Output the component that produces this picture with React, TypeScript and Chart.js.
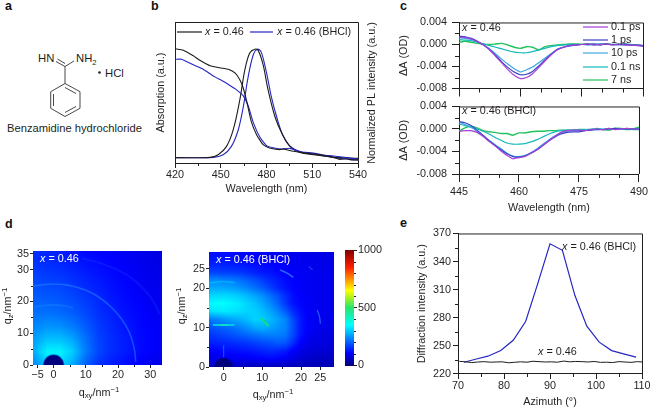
import React, { useEffect, useRef } from "react";
import { Chart, registerables } from "chart.js";
Chart.register(...registerables);

const FONT = '"Liberation Sans", Arial, sans-serif';
const INK = "#231f20";
const SIZE = 10.8;
const BLACK = "#1c1c1c";
const BLUE = "#2626c4";

// Panel b
const bAbsBlackX = [420, 425.5, 432, 436, 443, 449.5, 455, 459.5, 462.5, 464.8, 467.4, 470, 473.5, 477.8, 482, 488.7, 491, 494, 497.5, 502, 506, 510, 515, 519, 523.8, 528, 532.5, 536, 540];
const bAbsBlackY = [81, 80, 76, 73, 69, 67.5, 66.5, 63.7, 59, 53, 42, 29.5, 20, 13, 10.6, 9.5, 10, 9.2, 8.3, 7.6, 7, 6.6, 6, 5.2, 4, 2.6, 3, 2.2, 2.4];
const bAbsBlueX = [420, 424.4, 432, 438.5, 445, 451.6, 456, 460.4, 464.8, 468, 471.3, 475.7, 480, 484.4, 490, 495.4, 502, 510.7, 517.2, 523.8, 532.5, 540];
const bAbsBlueY = [73.6, 73.6, 69.6, 66.5, 61.8, 58, 55, 51.9, 47.6, 40.6, 28.8, 18.2, 12.3, 10.8, 9.9, 10.4, 8, 7, 5.7, 5, 3.8, 2.8];
const bPlBlackX = [420, 443, 448.3, 453.8, 458.2, 462.5, 465.8, 469, 472.4, 474.6, 477.8, 481, 485.5, 490, 495.4, 502, 510.7, 523.8, 540];
const bPlBlackY = [3.8, 4, 5.9, 11.8, 23.6, 44.8, 66, 78, 80.7, 79.7, 69.6, 52, 33, 21.2, 11.8, 7.5, 5.9, 4.2, 3.3];
const bPlBlueX = [420, 445, 451.6, 457, 461.5, 464.8, 468, 471.3, 474, 476.4, 479.6, 483.4, 486.6, 491, 496.4, 504, 515, 526, 540];
const bPlBlueY = [3.8, 4, 5.9, 11.8, 23.6, 40, 61.3, 76.6, 80.7, 79, 66, 46, 33, 19, 11, 7.5, 5.6, 3.5, 2];
const bTicksX = [420, 450, 480, 510, 540];
const bMinorX = [435, 465, 495, 525];

// Panel c
const cWave = [445, 446.5, 448, 449.5, 451, 452.5, 454, 455.5, 457, 458.5, 460, 461.5, 463, 464.5, 466, 467.5, 469, 470.5, 472, 473.5, 475, 476.5, 478, 479.5, 481, 482.5, 484, 485.5, 487, 488.5, 490];
const cNames = ["0.1 ps", "1 ps", "10 ps", "0.1 ns", "7 ns"];
const cColors = ["#a53fd8", "#3a3fc8", "#3aa5e2", "#14b9bb", "#22c25c"];
const cTop0 = [1.3, 1.3, 1.0, 0.5, -0.1, -1.0, -2.2, -3.4, -4.6, -5.6, -6.2, -6.0, -5.3, -4.2, -3.0, -1.9, -1.0, -0.5, -0.2, -0.1, 0, 0.1, -0.1, 0, 0.1, -0.1, 0.1, -0.1, -0.1, -0.2, -0.3];
const cTop1 = [1.5, 1.4, 1.1, 0.6, -0.1, -0.9, -2.0, -3.2, -4.2, -5.0, -5.5, -5.4, -4.9, -3.9, -2.8, -1.8, -0.9, -0.5, -0.2, -0.1, 0, 0, 0.1, -0.1, 0.1, 0, 0, 0.1, -0.1, -0.1, -0.2];
const cTop2 = [1.2, 1.1, 0.9, 0.5, -0.1, -0.8, -1.7, -2.7, -3.6, -4.4, -5.0, -4.6, -4.1, -3.3, -2.5, -1.7, -0.9, -0.5, -0.3, -0.1, 0, -0.1, 0, 0.1, 0, 0, -0.1, 0, -0.1, -0.1, -0.2];
const cTop3 = [0.9, 0.8, 0.7, 0.4, 0.1, -0.2, -0.5, -0.8, -1.1, -1.4, -1.5, -1.5, -1.3, -1.0, -0.7, -0.4, -0.2, -0.1, 0, 0, 0, 0.1, 0, 0, 0.1, 0, 0, -0.1, 0, -0.1, -0.2];
const cTop4 = [0.4, 0.6, 0.4, 0.2, 0.05, 0, 0.1, 0.2, -0.1, -0.5, -0.7, -0.4, -0.5, -1.0, -0.4, -0.2, -0.1, 0, 0.1, 0.1, 0.05, 0.1, 0, 0.1, 0.1, 0, 0.05, 0.1, 0, -0.1, -0.3];
const cBot0 = [-0.4, -0.3, -0.3, -0.6, -1.3, -2.2, -3.0, -3.9, -4.7, -5.3, -5.1, -4.9, -4.3, -3.7, -2.9, -2.1, -1.3, -0.6, -0.3, -0.2, -0.2, -0.3, -0.1, 0, -0.1, 0.1, -0.1, 0, 0.1, 0, 0];
const cBot1 = [1.3, 1.1, 0.6, -0.2, -1.1, -2.1, -2.9, -3.7, -4.4, -4.9, -5.0, -4.8, -4.3, -3.7, -2.9, -2.1, -1.4, -0.9, -0.6, -0.5, -0.5, -0.3, -0.2, -0.1, -0.1, 0, 0.1, 0, 0, 0, 0];
const cBot2 = [1.2, 0.8, 0.3, -0.4, -1.2, -2.0, -2.8, -3.5, -4.3, -4.8, -4.9, -4.7, -4.2, -3.5, -2.7, -1.9, -1.2, -0.7, -0.4, -0.3, -0.3, -0.2, -0.1, 0, -0.1, 0.1, 0, 0, 0.1, 0, 0];
const cBot3 = [0.9, 0.6, 0.3, 0, -0.4, -0.9, -1.5, -2.0, -2.5, -2.7, -2.7, -2.6, -2.3, -1.9, -1.4, -0.9, -0.5, -0.3, -0.2, -0.2, -0.1, -0.1, 0, 0, 0, 0, 0.1, 0, 0, -0.1, -0.1];
const cBot4 = [-0.4, 0.2, 0.5, 0.2, -0.3, -0.5, -0.6, -0.8, -0.8, -1.1, -0.7, -0.7, -0.5, -0.4, -0.4, -0.3, -0.3, -0.2, -0.2, -0.2, -0.1, -0.1, -0.2, 0.1, -0.1, -0.2, 0.1, 0.1, -0.1, 0, 0.3];
const cTicksX = [445, 460, 475, 490];
const cMinorX = [450, 455, 465, 470, 480, 485];
const cTicksY = [-0.008, -0.004, 0, 0.004];
const cMinorY = [-0.006, -0.002, 0.002];

// Panel d, left map
const dLeftQxy = [-6, -2, 2, 6, 10, 14, 18, 22, 26, 30, 34];
const dLeftQz = [36, 32, 28, 24, 20, 16, 12, 8, 4, 0];
const dLeftCells = [
  [150, 145, 135, 125, 115, 110, 105, 100, 95, 90, 85],
  [155, 150, 145, 135, 125, 118, 110, 105, 98, 92, 88],
  [170, 165, 160, 150, 138, 128, 118, 110, 100, 95, 90],
  [185, 182, 178, 165, 150, 138, 125, 115, 105, 98, 92],
  [200, 198, 192, 180, 165, 148, 132, 120, 110, 100, 95],
  [215, 218, 212, 198, 178, 155, 140, 125, 115, 105, 98],
  [235, 248, 245, 225, 195, 165, 145, 130, 118, 108, 100],
  [260, 290, 290, 265, 215, 172, 150, 135, 120, 110, 102],
  [275, 340, 340, 300, 225, 175, 150, 135, 120, 108, 100],
  [240, 300, 310, 270, 200, 155, 135, 120, 105, 95, 90],
];
const dLeftRingMain = [[-6.4, 24.8], [-3, 25.3], [0, 25.5], [3, 25.3], [6, 24.8], [10, 23.5], [14, 21.4], [18, 18.1], [21, 14.6], [23.5, 10.3], [25, 5.4], [25.5, 1]];
const dLeftRingInner = [[-6, 18.3], [-2, 18.8], [2, 18.8], [6, 18]];
const dLeftRingOuter = [[9, 33.5], [16, 31.5], [24, 27.5], [30, 21.5], [33, 16]];
const dLeftTicksX = [-5, 0, 10, 20, 30];
const dLeftTicksY = [0, 10, 20, 30, 35];

// Panel d, right map
const dRightQxy = [-4, -2, 0, 2, 4, 6, 8, 10, 12, 14, 16, 18, 20, 22, 24, 26, 28];
const dRightQz = [30, 28, 26, 24, 22, 20, 18, 16, 14, 12, 10, 8, 6, 4, 2, 0];
const dRightCells = [
  [115, 115, 115, 112, 110, 108, 105, 103, 100, 98, 95, 94, 92, 90, 89, 88, 86],
  [125, 125, 125, 122, 118, 114, 110, 108, 105, 102, 100, 98, 95, 94, 92, 90, 88],
  [140, 140, 140, 135, 130, 125, 120, 115, 112, 108, 105, 100, 98, 96, 94, 92, 90],
  [170, 170, 165, 165, 160, 150, 140, 130, 125, 115, 110, 105, 100, 98, 95, 93, 90],
  [235, 235, 230, 225, 215, 200, 185, 165, 148, 132, 118, 110, 105, 100, 96, 94, 92],
  [265, 270, 265, 260, 250, 235, 215, 195, 170, 145, 125, 112, 105, 100, 96, 94, 92],
  [310, 315, 315, 310, 300, 285, 265, 245, 215, 185, 150, 120, 108, 100, 96, 94, 92],
  [345, 350, 350, 340, 330, 310, 295, 270, 240, 205, 160, 125, 112, 103, 98, 95, 92],
  [320, 325, 330, 325, 320, 310, 305, 290, 265, 235, 195, 150, 120, 103, 98, 95, 92],
  [225, 235, 250, 265, 275, 290, 310, 305, 285, 262, 235, 175, 130, 105, 98, 95, 92],
  [185, 195, 205, 215, 230, 250, 270, 280, 265, 250, 235, 180, 130, 105, 95, 90, 88],
  [155, 165, 175, 185, 195, 205, 215, 225, 230, 230, 220, 175, 125, 100, 90, 85, 82],
  [135, 140, 145, 150, 155, 160, 170, 178, 185, 195, 190, 150, 105, 90, 85, 82, 80],
  [105, 110, 120, 122, 125, 128, 135, 142, 150, 145, 135, 105, 90, 80, 75, 72, 70],
  [85, 90, 95, 98, 100, 100, 105, 110, 115, 110, 100, 85, 72, 65, 60, 58, 58],
  [60, 58, 55, 55, 55, 52, 50, 50, 50, 50, 50, 48, 45, 45, 45, 45, 45],
];
const dRightRingTop = [[-3.8, 21.4], [0, 21.7], [3, 21.4]];
const dRightArcA = [[14.5, 24.7], [16.5, 23.8], [18, 22.8]];
const dRightArcB = [[24.2, 14.5], [24.8, 12.7], [25, 11]];
const dRightArcC = [[22, 25.5], [23, 24.7]];
const dRightStreak = [[-2.8, 10.7], [2.8, 10.7]];
const dRightStreakCore = [[-1, 10.7], [1, 10.7]];
const dRightSpot = [[9.6, 12.4], [11.6, 10.4]];
const dRightSpotCore = [[10.3, 11.7], [11.1, 10.9]];
const dRightSpike = [[0, 2.5], [0, 5.5]];
const dRightTicksX = [0, 10, 20, 25];
const dRightTicksY = [0, 10, 20, 25];
const beamStop = [[0, 0]];
const barLevels = [1000, 0];
const barTicks = [0, 500, 1000];
const barMinor = [100, 200, 300, 400, 600, 700, 800, 900];

// Panel e
const eBlueX = [71.3, 74, 76.5, 79.3, 82, 84.7, 87.3, 90, 92.7, 95.4, 98, 100.7, 103.4, 106, 108.7];
const eBlueY = [232.5, 236, 239, 245, 256, 276, 316, 359, 352, 304, 271, 254, 245, 241.5, 238];
const eBlackX = [70.3, 71.6, 73, 74.3, 75.6, 77, 78.3, 79.6, 81, 82.3, 83.6, 85, 86.3, 87.6, 89, 90.3, 91.6, 93, 94.3, 95.6, 97, 98.3, 99.6, 101, 102.3, 103.6, 105, 106.3, 107.6, 109, 110];
const eBlackY = [233.5, 233, 232.2, 232.8, 233.2, 232.6, 232.8, 233, 232, 232.5, 233, 232.6, 233.6, 233.2, 232.8, 233, 232.6, 233.8, 233, 233.4, 233.2, 232.8, 233.4, 232.4, 232.6, 232.2, 233.2, 232.8, 232.4, 233.2, 232.8];
const eTicksX = [70, 80, 90, 100, 110];
const eTicksY = [220, 250, 280, 310, 340, 370];
const eMinorX = [75, 85, 95, 105];
const eMinorY = [235, 265, 295, 325, 355];

type Run = { t: string; i?: boolean; sub?: boolean; sup?: boolean };
type Txt = { runs: Run[]; x: number; y: number; align?: "left" | "center"; rot?: boolean; color?: string };
type Rect = { L: number; R: number; T: number; B: number; gL: number; gR: number; gT: number; gB: number };

const xEq = (rest: string): Run[] => [{ t: "x", i: true }, { t: rest }];
const qz: Run[] = [{ t: "q" }, { t: "z", sub: true }, { t: "/nm" }, { t: "−1", sup: true }];
const qxy: Run[] = [{ t: "q" }, { t: "xy", sub: true }, { t: "/nm" }, { t: "−1", sup: true }];

function heatColor(t: number): [number, number, number] {
  const stops: [number, number[]][] = [
    [0, [0, 0, 127]], [0.11, [0, 0, 255]], [0.35, [0, 255, 255]], [0.5, [40, 230, 110]],
    [0.58, [160, 240, 40]], [0.65, [255, 255, 0]], [0.85, [255, 30, 0]], [1, [127, 0, 0]],
  ];
  t = Math.max(0, Math.min(1, t));
  for (let k = 1; k < stops.length; k++) {
    if (t <= stops[k][0]) {
      const [a, ca] = stops[k - 1];
      const [b, cb] = stops[k];
      const f = (t - a) / (b - a);
      return [0, 1, 2].map((c) => ca[c] + (cb[c] - ca[c]) * f) as [number, number, number];
    }
  }
  return [127, 0, 0];
}

function lookup(levels: number[], v: number): [number, number] {
  const asc = levels[levels.length - 1] > levels[0];
  for (let k = 0; k < levels.length - 1; k++) {
    const a = levels[k];
    const b = levels[k + 1];
    if (asc ? v <= b : v >= b) {
      return [k, Math.max(0, Math.min(1, (v - a) / (b - a)))];
    }
  }
  return [levels.length - 2, 1];
}

type Heat = { xs: number[]; ys: number[]; cells: number[][] };

function fontOf(run: Run, size = SIZE) {
  const s = run.sub || run.sup ? size * 0.72 : size;
  return `${run.i ? "italic " : ""}${s}px ${FONT}`;
}

function drawRuns(ctx: CanvasRenderingContext2D, item: Txt) {
  ctx.save();
  ctx.translate(item.x, item.y);
  if (item.rot) ctx.rotate(-Math.PI / 2);
  ctx.fillStyle = item.color || INK;
  ctx.textBaseline = "middle";
  ctx.textAlign = "left";
  let total = 0;
  for (const r of item.runs) {
    ctx.font = fontOf(r);
    total += ctx.measureText(r.t).width;
  }
  let x = item.align === "center" ? -total / 2 : 0;
  for (const r of item.runs) {
    ctx.font = fontOf(r);
    ctx.fillText(r.t, x, r.sub ? 3 : r.sup ? -3 : 0);
    x += ctx.measureText(r.t).width;
  }
  ctx.restore();
}

function panelPlugin(rect: Rect, o: {
  frame?: boolean; texts?: Txt[]; heat?: Heat; lines?: { x1: number; x2: number; y: number; color: string }[];
  minorX?: number[]; minorY?: number[]; minorLen?: number; minorSide?: "left" | "right";
}) {
  return {
    id: "panel",
    beforeDatasetsDraw(chart: any) {
      if (!o.heat) return;
      const { ctx, chartArea: a, scales } = chart;
      const w = Math.round(a.right - a.left);
      const h = Math.round(a.bottom - a.top);
      const img = ctx.createImageData(w, h);
      for (let py = 0; py < h; py++) {
        const vy = scales.y.getValueForPixel(a.top + py + 0.5);
        const [j, fy] = lookup(o.heat.ys, vy);
        for (let px = 0; px < w; px++) {
          const vx = scales.x.getValueForPixel(a.left + px + 0.5);
          const [i, fx] = lookup(o.heat.xs, vx);
          const c = o.heat.cells;
          const v = (c[j][i] * (1 - fx) + c[j][i + 1] * fx) * (1 - fy) + (c[j + 1][i] * (1 - fx) + c[j + 1][i + 1] * fx) * fy;
          const rgb = heatColor(v / 1000);
          const p = (py * w + px) * 4;
          img.data[p] = rgb[0];
          img.data[p + 1] = rgb[1];
          img.data[p + 2] = rgb[2];
          img.data[p + 3] = 255;
        }
      }
      ctx.putImageData(img, a.left, a.top);
    },
    afterDraw(chart: any) {
      const { ctx, chartArea: a, scales } = chart;
      ctx.save();
      ctx.strokeStyle = INK;
      ctx.lineWidth = 1;
      if (o.frame) {
        ctx.beginPath();
        ctx.moveTo(a.left, a.top + 0.5);
        ctx.lineTo(a.right + 0.5, a.top + 0.5);
        ctx.lineTo(a.right + 0.5, a.bottom);
        ctx.stroke();
      }
      const len = o.minorLen ?? 3;
      ctx.beginPath();
      for (const v of o.minorX || []) {
        const p = Math.round(scales.x.getPixelForValue(v)) + 0.5;
        ctx.moveTo(p, a.bottom);
        ctx.lineTo(p, a.bottom + len);
      }
      for (const v of o.minorY || []) {
        const p = Math.round(scales.y.getPixelForValue(v)) + 0.5;
        if (o.minorSide === "right") {
          ctx.moveTo(a.right, p);
          ctx.lineTo(a.right + len, p);
        } else {
          ctx.moveTo(a.left, p);
          ctx.lineTo(a.left - len, p);
        }
      }
      ctx.stroke();
      const ox = rect.L - rect.gL;
      const oy = rect.T - rect.gT;
      ctx.translate(-ox, -oy);
      for (const l of o.lines || []) {
        ctx.strokeStyle = l.color;
        ctx.lineWidth = 1.2;
        ctx.beginPath();
        ctx.moveTo(l.x1, l.y);
        ctx.lineTo(l.x2, l.y);
        ctx.stroke();
      }
      for (const t of o.texts || []) drawRuns(ctx, t);
      ctx.restore();
    },
  };
}

function axis(rect: Rect, pos: string, min: number, max: number, major: number[], o: {
  fmt?: (v: number) => string; title?: string; tick?: number; pad?: number; noLabels?: boolean; noBorder?: boolean; noTicks?: boolean; size?: number;
} = {}) {
  const horizontal = pos === "bottom";
  return {
    type: "linear",
    position: pos,
    min,
    max,
    afterBuildTicks: (s: any) => {
      s.ticks = major.map((value) => ({ value }));
    },
    afterFit: (s: any) => {
      if (horizontal) s.height = rect.gB;
      else s.width = pos === "right" ? rect.gR : rect.gL;
    },
    title: o.title
      ? { display: true, text: o.title, color: INK, padding: 0, font: { family: FONT, size: SIZE } }
      : { display: false },
    ticks: {
      display: !o.noTicks,
      autoSkip: false,
      maxRotation: 0,
      minRotation: 0,
      includeBounds: false,
      color: INK,
      padding: o.pad ?? 2,
      font: { family: FONT, size: SIZE },
      callback: (v: number) => (o.noLabels ? "" : o.fmt ? o.fmt(v) : String(v).replace("-", "−")),
    },
    grid: {
      display: !o.noTicks,
      drawOnChartArea: false,
      drawTicks: !o.noTicks,
      tickLength: o.tick ?? 5,
      tickColor: INK,
      tickWidth: 1,
    },
    border: { display: !o.noBorder, color: INK, width: 1 },
  };
}

function config(rect: Rect, datasets: any[], scales: any, plugin: any, rightAxis = false) {
  return {
    type: "scatter",
    data: { datasets },
    options: {
      responsive: false,
      animation: false,
      devicePixelRatio: 1,
      events: [],
      layout: { padding: rightAxis ? { top: rect.gT, right: 0, left: rect.gL, bottom: rect.gB } : { top: rect.gT, right: rect.gR, left: 0, bottom: 0 } },
      plugins: { legend: { display: false }, tooltip: { enabled: false } },
      scales,
    },
    plugins: [plugin],
  };
}

const line = (label: string, xs: number[], ys: number[], color: string, width = 1, yAxisID = "y", tension = 0.25) => ({
  label,
  data: xs.map((x, i) => ({ x, y: ys[i] })),
  showLine: true,
  borderColor: color,
  borderWidth: width,
  pointRadius: 0,
  tension,
  yAxisID,
});
const trace = (label: string, pts: number[][], color: string, width: number, tension = 0.4) => ({
  label,
  data: pts.map(([x, y]) => ({ x, y })),
  showLine: true,
  borderColor: color,
  borderWidth: width,
  pointRadius: 0,
  tension,
});
const stopMark = (radius: number) => ({
  label: "beam stop",
  data: beamStop.map(([x, y]) => ({ x, y })),
  showLine: false,
  pointRadius: radius,
  pointBackgroundColor: "#00007c",
  pointBorderColor: "rgba(0,0,150,0.45)",
  pointBorderWidth: 1.5,
});

const rB: Rect = { L: 175, R: 358, T: 22, B: 163, gL: 20, gR: 22, gT: 6, gB: 33 };
const rCT: Rect = { L: 459, R: 643, T: 19, B: 90, gL: 61, gR: 9, gT: 8, gB: 10 };
const rCB: Rect = { L: 459, R: 643, T: 103, B: 174, gL: 61, gR: 9, gT: 8, gB: 41 };
const rDL: Rect = { L: 33, R: 165, T: 248, B: 365, gL: 32, gR: 8, gT: 8, gB: 36 };
const rDR: Rect = { L: 209, R: 338, T: 250, B: 367, gL: 35, gR: 6, gT: 8, gB: 36 };
const rBar: Rect = { L: 345, R: 354, T: 250, B: 367, gL: 2, gR: 30, gT: 8, gB: 6 };
const rE: Rect = { L: 458, R: 642, T: 233, B: 374, gL: 42, gR: 10, gT: 8, gB: 35 };

const fmtOD = (v: number) => v.toFixed(3);
const toOD = (a: number[]) => a.map((v) => v * 0.001);

const chartB = () =>
  config(
    rB,
    [
      line("x = 0.46 absorption", bAbsBlackX, bAbsBlackY, BLACK, 1.1, "y", 0.15),
      line("x = 0.46 (BHCl) absorption", bAbsBlueX, bAbsBlueY, BLUE, 1.1, "y", 0.15),
      line("x = 0.46 PL", bPlBlackX, bPlBlackY, BLACK, 1.1, "y2", 0.35),
      line("x = 0.46 (BHCl) PL", bPlBlueX, bPlBlueY, BLUE, 1.1, "y2", 0.35),
    ],
    {
      x: axis(rB, "bottom", 420, 540, bTicksX, { title: "Wavelength (nm)", tick: 5, pad: 1 }),
      y: axis(rB, "left", 0, 100, [], { title: "Absorption (a.u.)", noTicks: true }),
      y2: { type: "linear", display: false, min: 0, max: 100 },
    },
    panelPlugin(rB, {
      frame: true,
      minorX: bMinorX,
      lines: [
        { x1: 177, x2: 202, y: 32, color: BLACK },
        { x1: 250, x2: 273, y: 32, color: BLUE },
      ],
      texts: [
        { runs: xEq(" = 0.46"), x: 205, y: 32 },
        { runs: xEq(" = 0.46 (BHCl)"), x: 277, y: 32 },
        { runs: [{ t: "Normalized PL intensity (a.u.)" }], x: 372, y: 93, rot: true, align: "center" },
      ],
    })
  );

const chartC = (rect: Rect, series: number[][], top: boolean) =>
  config(
    rect,
    series.map((s, i) => line(cNames[i], cWave, toOD(s), cColors[i], i === 4 ? 1.4 : 1.2, "y", 0.2)),
    {
      x: top
        ? axis(rect, "bottom", 445, 490, cTicksX, { tick: 8, noLabels: true })
        : axis(rect, "bottom", 445, 490, cTicksX, { tick: 8, pad: 4, title: "Wavelength (nm)" }),
      y: axis(rect, "left", -0.008, 0.004, cTicksY, { fmt: fmtOD, tick: 7, pad: 5, title: "ΔA (OD)" }),
    },
    panelPlugin(rect, {
      frame: true,
      minorX: cMinorX,
      minorY: cMinorY,
      minorLen: 4,
      lines: top ? [27, 40, 53, 67, 80].map((y, i) => ({ x1: 583, x2: 608, y, color: cColors[i] })) : [],
      texts: top
        ? [
            { runs: xEq(" = 0.46"), x: 462, y: 28 },
            ...cNames.map((n, i) => ({ runs: [{ t: n }], x: 611, y: [27, 40, 53, 67, 80][i] })),
          ]
        : [{ runs: xEq(" = 0.46 (BHCl)"), x: 462, y: 111 }],
    })
  );

const chartDL = () =>
  config(
    rDL,
    [
      trace("ring", dLeftRingMain, "rgba(40,150,255,0.45)", 1.6),
      trace("inner ring", dLeftRingInner, "rgba(50,160,255,0.22)", 2),
      trace("outer ring", dLeftRingOuter, "rgba(50,130,255,0.14)", 2),
      stopMark(10),
    ],
    {
      x: axis(rDL, "bottom", -6.4, 33.5, dLeftTicksX, { tick: 3, pad: 1, noBorder: true }),
      y: axis(rDL, "left", 0, 35.7, dLeftTicksY, { tick: 3, pad: 1, noBorder: true }),
    },
    panelPlugin(rDL, {
      heat: { xs: dLeftQxy, ys: dLeftQz, cells: dLeftCells },
      minorX: [5, 15, 25],
      minorY: [5, 15, 25],
      minorLen: 2,
      texts: [
        { runs: xEq(" = 0.46"), x: 40, y: 259, color: "#ffffff" },
        { runs: qz, x: 8, y: 306, rot: true, align: "center" },
        { runs: qxy, x: 99, y: 393, align: "center" },
      ],
    })
  );

const chartDR = () =>
  config(
    rDR,
    [
      trace("ring top", dRightRingTop, "rgba(0,235,255,0.4)", 1.5),
      trace("arc a", dRightArcA, "rgba(70,170,255,0.6)", 1.5),
      trace("arc b", dRightArcB, "rgba(70,170,255,0.5)", 1.3),
      trace("arc c", dRightArcC, "rgba(70,170,255,0.35)", 1.2),
      trace("streak", dRightStreak, "rgba(0,225,220,0.8)", 2, 0),
      trace("streak core", dRightStreakCore, "#a5e040", 1.4, 0),
      trace("spot", dRightSpot, "#10dc90", 2.4, 0),
      trace("spot core", dRightSpotCore, "#b02000", 1.8, 0),
      trace("spike", dRightSpike, "rgba(0,200,255,0.5)", 1, 0),
      stopMark(9),
    ],
    {
      x: axis(rDR, "bottom", -3.8, 28.4, dRightTicksX, { tick: 3, pad: 2, noBorder: true }),
      y: axis(rDR, "left", 0, 29.1, dRightTicksY, { tick: 3, pad: 1, noBorder: true }),
    },
    panelPlugin(rDR, {
      heat: { xs: dRightQxy, ys: dRightQz, cells: dRightCells },
      minorX: [5, 15],
      minorY: [5, 15],
      minorLen: 2,
      texts: [
        { runs: xEq(" = 0.46 (BHCl)"), x: 216, y: 260, color: "#ffffff" },
        { runs: qz, x: 182, y: 306, rot: true, align: "center" },
        { runs: qxy, x: 273, y: 395, align: "center" },
      ],
    })
  );

const chartBar = () =>
  config(
    rBar,
    [],
    {
      x: { type: "linear", display: false, min: 0, max: 1 },
      y: axis(rBar, "right", 0, 1000, barTicks, { tick: 3, pad: 1, noBorder: true }),
    },
    panelPlugin(rBar, {
      heat: { xs: [0, 1], ys: barLevels, cells: barLevels.map((v) => [v, v]) },
      minorY: barMinor,
      minorSide: "right",
      minorLen: 2,
    }),
    true
  );

const chartE = () =>
  config(
    rE,
    [line("x = 0.46", eBlackX, eBlackY, BLACK, 1, "y", 0), line("x = 0.46 (BHCl)", eBlueX, eBlueY, BLUE, 1.2, "y", 0)],
    {
      x: axis(rE, "bottom", 70, 110, eTicksX, { tick: 5, pad: 1, title: "Azimuth (°)" }),
      y: axis(rE, "left", 220, 370, eTicksY, { tick: 5, pad: 2, title: "Diffraction intensity (a.u.)" }),
    },
    panelPlugin(rE, {
      frame: true,
      minorX: eMinorX,
      minorY: eMinorY,
      texts: [
        { runs: xEq(" = 0.46 (BHCl)"), x: 562, y: 247 },
        { runs: xEq(" = 0.46"), x: 538, y: 352 },
      ],
    })
  );

function Panel({ rect, make }: { rect: Rect; make: () => any }) {
  const ref = useRef<HTMLCanvasElement>(null);
  useEffect(() => {
    const c = new Chart(ref.current as HTMLCanvasElement, make());
    return () => c.destroy();
  }, []);
  const w = rect.R - rect.L + rect.gL + rect.gR;
  const h = rect.B - rect.T + rect.gT + rect.gB;
  return (
    <canvas
      ref={ref}
      width={w}
      height={h}
      style={{ position: "absolute", left: rect.L - rect.gL, top: rect.T - rect.gT, width: w, height: h, display: "block" }}
    />
  );
}

function Overlay() {
  const t = { fontFamily: FONT, fontSize: 11.3, fill: INK };
  const bold = { fontFamily: FONT, fontSize: 12.5, fontWeight: 700, fill: "#111" };
  const bond = { stroke: "#333", strokeWidth: 0.9, fill: "none" };
  return (
    <svg width={652} height={409} style={{ position: "absolute", left: 0, top: 0 }}>
      <text x={5} y={10} {...bold}>a</text>
      <text x={151} y={10} {...bold}>b</text>
      <text x={400} y={10} {...bold}>c</text>
      <text x={5} y={228} {...bold}>d</text>
      <text x={400} y={227} {...bold}>e</text>
      <polygon points="65,83.5 80,91.7 80,108.3 65,116.5 50.7,108.3 50.7,91.7" {...bond} />
      <line x1={53.5} y1={106} x2={53.5} y2={94} {...bond} />
      <line x1={65} y1={112.5} x2={76} y2={106.5} {...bond} />
      <line x1={65} y1={87.5} x2={76} y2={93.5} {...bond} />
      <line x1={65} y1={83.5} x2={65} y2={66.5} {...bond} />
      <line x1={65} y1={66.5} x2={74} y2={61} {...bond} />
      <line x1={65} y1={66.5} x2={56} y2={61.5} {...bond} />
      <line x1={65} y1={63.5} x2={57.5} y2={59} {...bond} />
      <text x={38} y={62} {...t}>HN</text>
      <text x={76} y={62} {...t}>NH<tspan fontSize={7.5} dy={2.5}>2</tspan></text>
      <circle cx={99.5} cy={72.5} r={1.3} fill={INK} />
      <text x={105} y={76.5} {...t}>HCl</text>
      <text x={7} y={132} fontFamily={FONT} fontSize={11.2} fill={INK}>Benzamidine hydrochloride</text>
    </svg>
  );
}

export default function App() {
  return (
    <div style={{ position: "absolute", left: 0, top: 0, width: 652, height: 409, overflow: "hidden", background: "#fff" }}>
      <Overlay />
      <Panel rect={rB} make={chartB} />
      <Panel rect={rCT} make={() => chartC(rCT, [cTop0, cTop1, cTop2, cTop3, cTop4], true)} />
      <Panel rect={rCB} make={() => chartC(rCB, [cBot0, cBot1, cBot2, cBot3, cBot4], false)} />
      <Panel rect={rDL} make={chartDL} />
      <Panel rect={rDR} make={chartDR} />
      <Panel rect={rBar} make={chartBar} />
      <Panel rect={rE} make={chartE} />
    </div>
  );
}
